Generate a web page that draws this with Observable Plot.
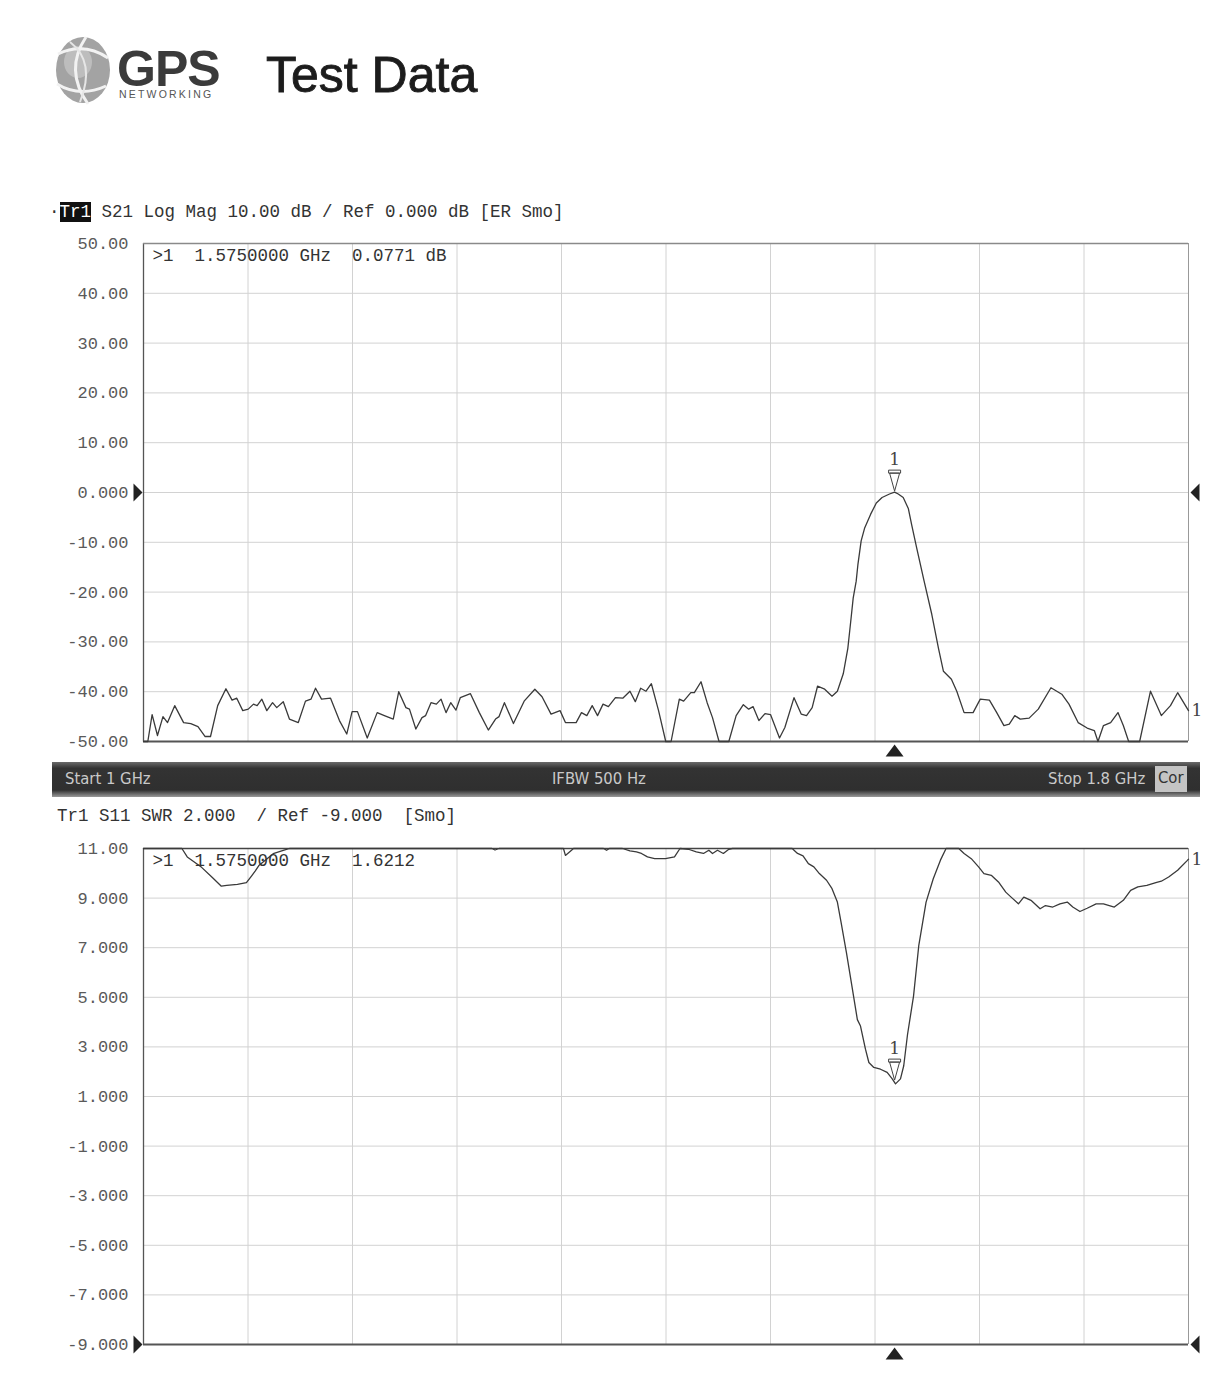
<!DOCTYPE html>
<html><head><meta charset="utf-8">
<script src="https://cdn.jsdelivr.net/npm/d3@7"></script>
<script src="https://cdn.jsdelivr.net/npm/@observablehq/plot@0.6"></script>
<style>
body{margin:0;background:#fff;}
#page{position:relative;width:1207px;height:1384px;overflow:hidden;background:#fff;}
.abs{position:absolute;}
.mono{font-family:"Liberation Mono","DejaVu Sans Mono",monospace;font-size:17.5px;line-height:20px;color:#333;white-space:pre;}
#status{left:52px;top:762px;width:1148px;height:35px;background:linear-gradient(#6a6a6a,#333 18%,#2f2f2f 80%,#9a9a9a);}
#status span{position:absolute;top:7px;font-family:"DejaVu Sans Condensed","DejaVu Sans",sans-serif;font-stretch:condensed;font-size:16.5px;line-height:20px;color:#c9c9c9;}
</style></head>
<body><div id="page">
  <svg class="abs" style="left:50px;top:32px" width="70" height="78" viewBox="0 0 70 78">
    <ellipse cx="33" cy="38" rx="27" ry="33" fill="#a3a3a3"/>
    <ellipse cx="28" cy="30" rx="14" ry="16" fill="#bdbdbd"/>
    <path d="M8,22 Q34,10 58,26" stroke="#f2f2f2" stroke-width="3" fill="none"/>
    <path d="M7,52 Q30,66 56,54" stroke="#f2f2f2" stroke-width="3" fill="none"/>
    <path d="M36,5 Q14,38 38,72" stroke="#f2f2f2" stroke-width="3" fill="none"/>
    <path d="M20,10 Q46,30 30,70" stroke="#e6e6e6" stroke-width="2" fill="none"/>
  </svg>
  <div class="abs" style="left:117px;top:50px;font:bold 50px 'Liberation Sans',Arial,sans-serif;line-height:38px;color:#3b3b3b;letter-spacing:-1px;">GPS</div>
  <div class="abs" style="left:119px;top:89px;font:10.5px 'Liberation Sans',Arial,sans-serif;line-height:11px;color:#555;letter-spacing:2.2px;">NETWORKING</div>
  <div class="abs" style="left:266px;top:50px;font:50px 'Liberation Sans',Arial,sans-serif;line-height:50px;color:#1c1c1c;-webkit-text-stroke:0.9px #1c1c1c;">Test Data</div>

  <div class="abs mono" style="left:49px;top:202px;">·<span style="background:#111;color:#fff;">Tr1</span> S21 Log Mag 10.00 dB / Ref 0.000 dB [ER Smo]</div>
  <div class="abs" id="top"></div>
  <div class="abs" id="status">
    <span style="left:13px">Start 1 GHz</span>
    <span style="left:500px">IFBW 500 Hz</span>
    <span style="left:996px">Stop 1.8 GHz</span>
    <span style="left:1103px;top:4px;height:24px;padding:2px 3px 0;background:#c4c4c4;color:#333;">Cor</span>
  </div>
  <div class="abs mono" style="left:57px;top:806px;">Tr1 S11 SWR 2.000  / Ref -9.000  [Smo]</div>
  <div class="abs" id="bottom"></div>
</div>
<script>
// ---- data ----
const xGrid = [1000, 1080, 1160, 1240, 1320, 1400, 1480, 1560, 1640, 1720, 1800];

const s21Ticks = [50, 40, 30, 20, 10, 0, -10, -20, -30, -40, -50];
const s21TickLabels = ["50.00", "40.00", "30.00", "20.00", "10.00", "0.000", "-10.00", "-20.00", "-30.00", "-40.00", "-50.00"];

const s11Ticks = [11, 9, 7, 5, 3, 1, -1, -3, -5, -7, -9];
const s11TickLabels = ["11.00", "9.000", "7.000", "5.000", "3.000", "1.000", "-1.000", "-3.000", "-5.000", "-7.000", "-9.000"];

// S21 trace: frequency (MHz) and magnitude (dB)
const s21Freq = [1000, 1003.3, 1006.6, 1010.7, 1014.9, 1018.4, 1023.9, 1030.7, 1036.2, 1041.7, 1047.2, 1051.3, 1056.8, 1063.1, 1067.8, 1071.4, 1076.0, 1080.2, 1084.2, 1087.0, 1090.6, 1094.4, 1098.8, 1102.0, 1107.0, 1111.7, 1118.5, 1124.0, 1128.2, 1131.7, 1136.3, 1143.2, 1150.0, 1155.6, 1159.7, 1163.8, 1171.3, 1178.9, 1184.4, 1191.2, 1195.4, 1200.9, 1203.6, 1208.5, 1213.2, 1216.0, 1220.1, 1224.2, 1227.8, 1231.6, 1235.2, 1239.2, 1242.5, 1250.3, 1257.1, 1264.0, 1269.5, 1272.2, 1276.3, 1283.2, 1291.4, 1299.6, 1305.1, 1312.0, 1318.9, 1323.0, 1331.2, 1335.3, 1339.4, 1343.5, 1347.6, 1351.8, 1355.9, 1361.3, 1366.9, 1372.4, 1376.5, 1380.6, 1384.7, 1388.8, 1394.3, 1399.8, 1403.9, 1410.2, 1413.5, 1419.0, 1421.7, 1426.8, 1431.5, 1435.6, 1440.6, 1448.1, 1453.7, 1459.2, 1463.3, 1466.7, 1471.1, 1475.8, 1480.0, 1486.9, 1491.0, 1498.0, 1503.5, 1507.6, 1511.9, 1516.0, 1521.5, 1527.1, 1531.2, 1535.7, 1539.2, 1541.7, 1543.3, 1545.6, 1546.9, 1549.4, 1552.0, 1556.6, 1561.0, 1565.4, 1571.1, 1575.0, 1577.8, 1581.6, 1585.5, 1588.0, 1591.9, 1597.6, 1603.5, 1608.6, 1612.4, 1618.5, 1622.6, 1628.2, 1635.1, 1640.6, 1647.6, 1653.2, 1658.7, 1662.8, 1667.0, 1671.2, 1678.0, 1685.0, 1694.7, 1703.0, 1708.5, 1715.5, 1722.4, 1727.9, 1730.7, 1734.9, 1740.4, 1746.0, 1750.1, 1754.2, 1762.6, 1770.9, 1779.2, 1786.2, 1791.7, 1800];
const s21Db = [-50, -50, -44.6, -48.8, -45.0, -46.2, -42.8, -46.2, -46.4, -47.0, -49.0, -49.0, -42.8, -39.4, -41.7, -41.3, -43.8, -43.5, -42.5, -42.8, -41.5, -43.8, -42.2, -43.2, -42.0, -45.5, -46.2, -41.9, -41.5, -39.3, -41.5, -41.3, -45.8, -48.5, -44.0, -44.0, -49.3, -44.2, -44.8, -45.5, -40.0, -43.2, -43.5, -47.5, -45.2, -44.8, -42.2, -42.5, -41.5, -44.2, -42.2, -43.7, -41.2, -40.4, -44.2, -47.7, -45.5, -45.0, -42.2, -46.4, -41.9, -39.5, -41.0, -44.5, -43.8, -46.2, -46.2, -44.2, -44.8, -42.8, -44.8, -42.5, -43.0, -41.2, -41.3, -39.9, -42.0, -39.3, -39.9, -38.4, -43.8, -50, -50, -41.5, -41.9, -40.2, -40.2, -38.0, -42.2, -45.2, -50, -50, -44.8, -42.6, -43.5, -43.0, -45.8, -44.4, -44.6, -49.3, -47.2, -41.2, -44.5, -44.8, -43.2, -38.9, -39.5, -40.9, -39.9, -36.4, -31.3, -25.2, -21.2, -17.8, -14.5, -9.7, -7.2, -4.4, -2.1, -1.0, -0.3, 0.08, -0.3, -1.0, -3.2, -6.4, -11.1, -17.8, -24.5, -31.3, -35.9, -37.5, -39.9, -44.2, -44.2, -41.5, -41.7, -44.2, -46.8, -46.5, -44.8, -45.5, -45.3, -43.5, -39.2, -40.5, -42.5, -46.2, -47.3, -47.8, -50, -46.8, -46.2, -44.2, -46.8, -50, -50, -39.9, -44.8, -42.8, -40.2, -43.8];

// S11 trace: frequency (MHz) and SWR (display clips at 11)
const s11Freq = [1000, 1029.4, 1033.5, 1044.5, 1052.7, 1059.6, 1063.7, 1071.9, 1078.8, 1082.8, 1085.6, 1088.3, 1099.3, 1107.6, 1111.7, 1266.7, 1269.1, 1272.2, 1321.5, 1323.0, 1327.0, 1329.2, 1352.2, 1354.5, 1356.7, 1366.7, 1372.4, 1377.4, 1381.2, 1385.8, 1391.3, 1399.6, 1406.5, 1410.7, 1417.2, 1423.2, 1428.7, 1432.8, 1435.6, 1439.4, 1443.9, 1448.1, 1450.9, 1496.6, 1500.7, 1504.9, 1509.0, 1513.2, 1517.4, 1522.9, 1527.1, 1531.2, 1534.0, 1538.1, 1542.3, 1546.5, 1548.9, 1552.7, 1555.3, 1559.1, 1564.2, 1569.3, 1573.2, 1575.7, 1579.5, 1582.0, 1584.9, 1589.5, 1593.5, 1599.1, 1604.6, 1610.1, 1614.4, 1624.1, 1628.2, 1633.7, 1639.3, 1643.4, 1649.0, 1654.5, 1660.1, 1664.2, 1669.8, 1673.9, 1679.4, 1686.4, 1690.5, 1696.1, 1701.6, 1707.2, 1711.4, 1716.9, 1722.4, 1729.3, 1734.9, 1743.2, 1750.1, 1755.7, 1761.2, 1768.1, 1775.0, 1779.2, 1784.8, 1791.7, 1798.6, 1800];
const s11Swr = [11, 11, 10.66, 10.24, 9.83, 9.48, 9.51, 9.55, 9.62, 9.90, 10.10, 10.31, 10.79, 10.93, 11, 11, 10.94, 11, 11, 10.72, 10.9, 11, 11, 10.93, 11, 11, 10.9, 10.86, 10.8, 10.66, 10.59, 10.59, 10.66, 11, 10.97, 10.86, 10.8, 10.93, 10.8, 10.93, 10.8, 10.97, 11, 11, 10.8, 10.7, 10.39, 10.26, 9.99, 9.72, 9.38, 8.84, 8.03, 6.81, 5.46, 4.1, 3.84, 2.91, 2.37, 2.17, 2.1, 1.97, 1.71, 1.51, 1.71, 2.24, 3.5, 5.05, 7.08, 8.84, 9.78, 10.53, 11, 11, 10.8, 10.59, 10.26, 9.99, 9.92, 9.65, 9.24, 9.04, 8.77, 9.04, 8.91, 8.57, 8.7, 8.64, 8.77, 8.84, 8.64, 8.46, 8.59, 8.77, 8.77, 8.64, 8.91, 9.31, 9.45, 9.51, 9.62, 9.68, 9.85, 10.12, 10.49, 10.57];

const markerFreq = 1575;
const s21MarkerValue = 0.0771;
const s11MarkerValue = 1.6212;
const s21Readout = ">1  1.5750000 GHz  0.0771 dB";
const s11Readout = ">1  1.5750000 GHz  1.6212";

// ---- drawing ----
const monoFont = "'Liberation Mono','DejaVu Sans Mono',monospace";
const serifFont = "'DejaVu Serif','Liberation Serif',serif";

const symMarker = {draw(c) { c.moveTo(-6,-22); c.lineTo(6,-22); c.lineTo(6,-19); c.lineTo(-6,-19); c.closePath();
  c.moveTo(-5,-19); c.lineTo(5,-19); c.lineTo(0,-1); c.closePath(); }};
const symStim = {draw(c) { c.moveTo(0,3); c.lineTo(9,15); c.lineTo(-9,15); c.closePath(); }};
const symRefL = {draw(c) { c.moveTo(-1,0); c.lineTo(-10,-9); c.lineTo(-10,9); c.closePath(); }};
const symRefR = {draw(c) { c.moveTo(2,0); c.lineTo(11,-9); c.lineTo(11,9); c.closePath(); }};

function panel({freq, vals, ticks, labels, domain, refLevel, markerValue, readout, height, mt, mb, topBorder}) {
  const data = freq.map((f, i) => ({f, v: vals[i]}));
  const labelMap = new Map(ticks.map((t, i) => [t, labels[i]]));
  const lo = domain[0], hi = domain[1];
  const last = data[data.length - 1];
  return Plot.plot({
    width: 1207, height,
    marginLeft: 143, marginRight: 19, marginTop: mt, marginBottom: mb,
    style: {fontFamily: monoFont, fontSize: "17px", background: "transparent", overflow: "visible"},
    x: {domain: [1000, 1800], axis: null},
    y: {domain, label: null},
    marks: [
      Plot.gridX(xGrid, {stroke: "#d2d2d2", strokeOpacity: 1}),
      Plot.gridY(ticks, {stroke: "#d2d2d2", strokeOpacity: 1}),
      Plot.axisY(ticks, {label: null, tickSize: 0, tickPadding: 15, tickFormat: d => labelMap.get(d), fill: "#5a5a5a", fontFamily: monoFont, fontSize: 17}),
      Plot.ruleX([1000], {stroke: "#555", strokeWidth: 1.3}),
      Plot.ruleX([1800], {stroke: "#999"}),
      Plot.ruleY([hi], {stroke: topBorder, strokeWidth: 1.3}),
      Plot.ruleY([lo], {stroke: "#555", strokeWidth: 1.8}),
      Plot.line(data, {x: "f", y: "v", stroke: "#3a3a3a", strokeWidth: 1.3}),
      Plot.text([readout], {frameAnchor: "top-left", dx: 9, dy: 5, textAnchor: "start", lineAnchor: "top", fill: "#333", fontFamily: monoFont, fontSize: 17.5}),
      Plot.dot([{f: markerFreq, v: markerValue}], {x: "f", y: "v", symbol: symMarker, fill: "#fff", stroke: "#444", strokeWidth: 1, r: 5}),
      Plot.text([{f: markerFreq, v: markerValue}], {x: "f", y: "v", text: () => "1", dy: -33, fill: "#444", fontFamily: serifFont, fontSize: 17}),
      Plot.text([last], {x: "f", y: "v", text: () => "1", dx: 3, textAnchor: "start", fill: "#444", fontFamily: serifFont, fontSize: 17}),
      Plot.dot([{f: markerFreq, v: lo}], {x: "f", y: "v", symbol: symStim, fill: "#222", r: 5}),
      Plot.dot([{f: 1000, v: refLevel}], {x: "f", y: "v", symbol: symRefL, fill: "#222", r: 5}),
      Plot.dot([{f: 1800, v: refLevel}], {x: "f", y: "v", symbol: symRefR, fill: "#222", r: 5})
    ]
  });
}

const topPlot = panel({freq: s21Freq, vals: s21Db, ticks: s21Ticks, labels: s21TickLabels, domain: [-50, 50],
  refLevel: 0, markerValue: s21MarkerValue, readout: s21Readout, height: 565, mt: 48, mb: 19, topBorder: "#8a8a8a"});
const topDiv = document.getElementById("top");
topDiv.style.left = "0px"; topDiv.style.top = "195px";
topDiv.appendChild(topPlot);

const botPlot = panel({freq: s11Freq, vals: s11Swr, ticks: s11Ticks, labels: s11TickLabels, domain: [-9, 11],
  refLevel: -9, markerValue: s11MarkerValue, readout: s11Readout, height: 544, mt: 18, mb: 30, topBorder: "#444"});
const botDiv = document.getElementById("bottom");
botDiv.style.left = "0px"; botDiv.style.top = "830px";
botDiv.appendChild(botPlot);
</script>
</body></html>
